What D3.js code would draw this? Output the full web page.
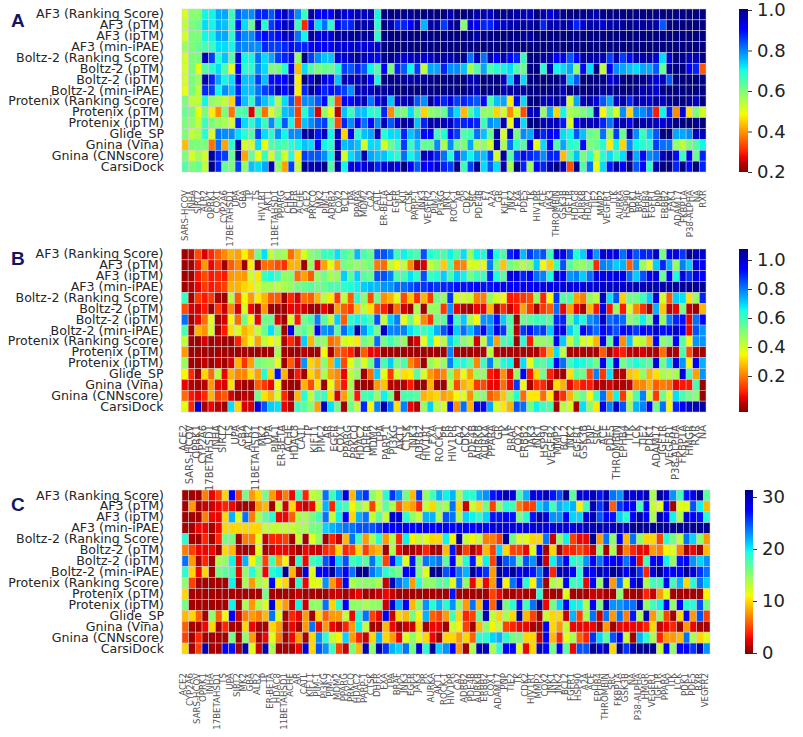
<!DOCTYPE html>
<html>
<head>
<meta charset="utf-8">
<script src="https://d3js.org/d3.v7.min.js"></script>
<style>
  body { margin: 0; background: #fff; }
  text { font-family: "DejaVu Sans", sans-serif; }
</style>
</head>
<body>
<div id="chart"></div>
<script>

// row names, same for every panel
var methods = ["AF3 (Ranking Score)", "AF3 (pTM)", "AF3 (ipTM)", "AF3 (min-iPAE)",
  "Boltz-2 (Ranking Score)", "Boltz-2 (pTM)", "Boltz-2 (ipTM)", "Boltz-2 (min-iPAE)",
  "Protenix (Ranking Score)", "Protenix (pTM)", "Protenix (ipTM)", "Glide_SP",
  "Gnina (Vina)", "Gnina (CNNscore)", "CarsiDock"];

// target names under each panel
var targetsA = ["SARS-HCOV","INHA","SIRT2","ALR2","OPRK1","COX1","CYP2A6","17BETAHSD1","UPA","GBA","TP","TS","HIV1RT","AKT1","11BETAHSD1","PPARG","CHK1","DHFR","ACHE","ACE2","PRKCQ","MK2","PIM-1","ADRB2","COX2","BCL2","TPA","PPARA","MDM2","CA2","CATL","ER-BETA","LCK","EGFR","KIT","CTSK","PARP-1","JNK3","VEGFR2","PIM-2","PI3KG","JNK1","ROCK-1","AR","CDK2","SRC","PDE4B","F7","A2A","GR","KIF11","JNK2","FXA","PDE5","TK","HIV1PR","ACE","JAK3","THROMBIN","GSK3B","IGF1R","HDAC8","AURKB","HDAC2","TIE2","MMP2","VEGFR1","ITK","AURKA","HSP90","PDK1","BRAF","EPHB4","FGFR1","PNP","ERBB2","FAK1","ADAM17","FKBP1A","P38-ALPHA","NA","RXR"];
var targetsB = ["ACE2","SARS-HCOV","OPRK1","CYP2A6","17BETAHSD1","INHA","SIRT2","TS","UPA","GBA","ALR2","11BETAHSD1","MK2","UPA","PIM-1","ER-BETA","ACHE","HDAC8","CATL","TP","KIF11","PIM-2","AR","EGFR","COX1","PPARG","PRKCQ","HDAC2","DHFR","MDM2","TPA","PARP-1","PI3KG","AKT1","CTSK","JNK3","ADRB2","HIV1RT","FXA","ROCK-1","PR","HIV1PR","CA2","CDK2","PDE4B","AURKB","AURKA","PPARA","GR","TK","BRAF","COX2","ERBB2","JAK3","JNK1","HSP90","VEGFR2","MMP2","BCL2","JNK2","FGFR1","GSK3B","PNP","SRC","ACE","PDE5","THROMBIN","EPHB4","ITK","LCK","TIE2","PDK1","ADAM17","IGF1R","VEGFR1","P38-ALPHA","FKBP1A","HMGR","RXR","NA"];
var targetsC = ["ACE2","CYP2A6","SARS-HCOV","OPRK1","INHA","17BETAHSD1","TS","UPA","SIRT2","MK2","GBA","ALR2","TP","ER-BETA","HDAC8","11BETAHSD1","ACHE","AR","CATL","KIF11","PIM-1","PI3KG","PIM-2","MDM2","PPARG","PRKCQ","HDAC2","PARP-1","CTSK","DHFR","FXA","TPA","BRAF","JNK3","EGFR","JAK3","PR","AURKA","AKT1","ROCK-1","HIV1PR","CA2","ADRB2","PDE4B","AURKB","ERBB2","COX1","ADAM17","PNP","TIE2","TK","CDK2","HIV1RT","MMP2","COX2","JNK1","JNK2","BCL2","FGFR1","HSP90","A2A","ACE","EPHB4","THROMBIN","SRC","FKBP1A","GSK3B","NA","P38-ALPHA","HMGR","VEGFR1","IGF1R","PPARA","ITK","LCK","PDK1","PDE5","RXR","VEGFR2"];

// panel A values
var valuesA = [
[.5,.57,.57,.68,.68,.74,.74,.64,.8,.76,.76,.84,.84,.8,.87,.92,.84,.76,.64,.94,.88,.88,.88,.94,.9,.9,.92,.92,.93,.68,.97,.97,.95,.95,.95,.95,.98,.97,.96,.97,.93,.96,.97,.96,.93,.93,.92,.95,.95,.95,.93,.92,.92,.96,.93,.9,.93,.95,.96,.96,.95,.94,.93,.95,.96,.96,.97,.97,.96,.97,.98,.97,.96,.98,.98,.99,.98,.97,.98],
[.52,.58,.6,.7,.68,.73,.72,.65,.85,.7,.6,.93,.66,.82,.86,.92,.9,.64,.3,.86,.7,.78,.66,.88,.83,.84,.93,.93,.93,.66,.96,.93,.84,.84,.88,.93,.73,.94,.93,.82,.93,.95,.57,.9,.88,.84,.84,.9,.9,.93,.93,.93,.93,.95,.84,.93,.93,.93,.92,.84,.9,.93,.93,.9,.93,.94,.94,.95,.94,.94,.94,.93,.8,.97,.97,.97,.96,.97,.98],
[.5,.58,.58,.68,.68,.74,.74,.66,.82,.76,.76,.84,.86,.84,.86,.92,.9,.78,.68,.94,.9,.9,.9,.94,.94,.94,.94,.94,.94,.66,.97,.97,.96,.96,.96,.96,.97,.97,.97,.97,.96,.96,.96,.96,.93,.95,.96,.96,.96,.96,.95,.94,.94,.97,.97,.96,.96,.97,.97,.97,.96,.96,.96,.97,.97,.97,.97,.98,.98,.98,.98,.98,.99,.99,.98,.98,.98,.98,.99],
[.55,.58,.6,.63,.65,.7,.7,.68,.78,.76,.76,.76,.84,.82,.82,.84,.86,.84,.84,.88,.88,.88,.88,.9,.9,.9,.9,.9,.9,.9,.96,.96,.96,.96,.96,.96,.98,.98,.97,.97,.97,.97,.97,.97,.97,.97,.97,.97,.97,.97,.96,.96,.96,.97,.97,.97,.97,.97,.97,.97,.97,.97,.97,.98,.98,.98,.98,.98,.98,.98,.98,.98,.98,.98,.98,.98,.98,.99,.99],
[.5,.58,.58,.92,.82,.66,.72,.62,.9,.68,.68,.78,.7,.74,.82,.84,.86,.56,.96,.82,.76,.72,.72,.9,.9,.92,.94,.92,.9,.86,.95,.95,.92,.9,.92,.92,.9,.92,.93,.93,.93,.94,.94,.78,.92,.78,.93,.87,.92,.86,.84,.65,.98,.98,.93,.93,.88,.88,.8,.86,.93,.93,.93,.92,.82,.93,.82,.86,.93,.93,.93,.9,.7,.9,.97,.95,.92,.92,.97],
[.5,.58,.48,.62,.66,.7,.62,.48,.88,.66,.66,.76,.7,.58,.58,.66,.88,.42,.7,.62,.58,.6,.6,.66,.82,.8,.84,.8,.68,.62,.88,.58,.84,.8,.68,.82,.52,.74,.74,.84,.76,.76,.72,.54,.62,.74,.62,.66,.68,.7,.62,.6,.96,.98,.66,.92,.68,.7,.74,.56,.86,.7,.96,.52,.88,.76,.74,.72,.7,.74,.74,.8,.6,.94,.96,.96,.88,.84,.34],
[.5,.58,.55,.93,.84,.74,.68,.7,.9,.72,.72,.82,.72,.86,.86,.88,.92,.46,.98,.9,.96,.9,.86,.72,.93,.92,.92,.94,.88,.68,.96,.96,.94,.94,.94,.93,.94,.97,.95,.96,.96,.96,.96,.93,.93,.96,.96,.98,.92,.72,.92,.7,.97,.98,.96,.96,.96,.93,.72,.8,.96,.96,.96,.96,.9,.92,.96,.96,.96,.96,.92,.9,.92,.8,.97,.97,.96,.96,.98],
[.48,.58,.52,.84,.82,.68,.76,.72,.84,.72,.72,.78,.82,.84,.92,.86,.92,.46,.84,.94,.9,.84,.86,.84,.82,.76,.92,.92,.92,.93,.94,.94,.96,.97,.97,.98,.98,.97,.96,.96,.96,.97,.97,.95,.92,.96,.96,.97,.92,.94,.94,.93,.96,.97,.96,.96,.96,.92,.98,.98,.96,.97,.96,.94,.94,.96,.97,.97,.97,.93,.93,.9,.95,.97,.97,.97,.96,.97,.98],
[.58,.52,.52,.68,.56,.54,.52,.44,.84,.72,.66,.78,.72,.68,.54,.7,.8,.32,.76,.76,.8,.86,.6,.33,.88,.86,.9,.92,.78,.88,.92,.72,.9,.92,.93,.8,.76,.95,.88,.84,.9,.82,.84,.82,.8,.86,.62,.72,.74,.46,.86,.7,.96,.97,.92,.92,.94,.92,.5,.74,.92,.93,.9,.8,.74,.92,.93,.84,.94,.92,.9,.94,.92,.94,.96,.96,.94,.92,.98],
[.6,.58,.48,.58,.46,.38,.58,.36,.62,.62,.26,.6,.36,.5,.56,.72,.74,.32,.66,.74,.26,.56,.48,.24,.72,.64,.72,.72,.66,.66,.84,.38,.6,.58,.7,.6,.44,.56,.58,.6,.78,.7,.42,.62,.7,.56,.56,.44,.5,.38,.5,.33,.92,.92,.56,.74,.44,.68,.54,.56,.58,.62,.92,.47,.6,.5,.76,.44,.76,.76,.8,.29,.68,.84,.38,.9,.45,.58,.5],
[.58,.56,.52,.64,.58,.56,.54,.5,.84,.7,.66,.72,.64,.76,.66,.8,.68,.32,.72,.76,.8,.82,.62,.33,.84,.76,.86,.78,.86,.76,.92,.8,.9,.94,.93,.72,.84,.94,.92,.92,.92,.84,.84,.85,.84,.64,.76,.74,.92,.48,.9,.7,.97,.97,.92,.92,.92,.85,.5,.88,.92,.92,.92,.84,.78,.92,.93,.88,.96,.93,.92,.92,.9,.92,.96,.97,.96,.95,.98],
[.58,.52,.54,.66,.5,.78,.76,.76,.7,.66,.62,.82,.7,.66,.76,.68,.76,.76,.94,.94,.85,.92,.68,.92,.44,.88,.66,.72,.74,.92,.66,.7,.7,.84,.72,.76,.86,.88,.64,.66,.86,.82,.62,.64,.78,.72,.6,.94,.5,.92,.58,.76,.74,.92,.84,.88,.86,.7,.68,.8,.72,.6,.58,.78,.56,.82,.6,.94,.76,.64,.72,.8,.96,.96,.74,.74,.76,.92,.92],
[.42,.58,.58,.58,.36,.78,.4,.66,.93,.5,.5,.7,.48,.62,.64,.62,.66,.68,.72,.7,.86,.68,.66,.92,.72,.74,.72,.5,.7,.7,.5,.6,.66,.82,.64,.72,.6,.6,.76,.54,.76,.6,.58,.74,.54,.56,.5,.94,.54,.78,.66,.62,.9,.48,.7,.88,.62,.74,.66,.64,.86,.58,.6,.66,.46,.68,.44,.76,.68,.66,.66,.82,.78,.78,.56,.52,.58,.62,.68],
[.58,.5,.55,.5,.94,.84,.82,.6,.95,.4,.6,.48,.64,.5,.62,.5,.66,.46,.82,.8,.8,.76,.68,.94,.5,.7,.74,.93,.74,.72,.72,.68,.66,.78,.68,.72,.92,.9,.84,.78,.66,.82,.74,.68,.74,.72,.82,.5,.94,.62,.82,.86,.84,.82,.76,.84,.84,.42,.62,.72,.58,.66,.52,.66,.7,.64,.7,.94,.74,.86,.76,.78,.92,.94,.86,.64,.88,.6,.84],
[.62,.58,.6,.52,.98,.84,.6,.58,.82,.56,.72,.7,.74,.92,.56,.4,.82,.52,.95,.92,.93,.96,.62,.94,.68,.9,.88,.9,.92,.84,.9,.92,.88,.98,.88,.8,.88,.88,.9,.84,.82,.98,.64,.82,.95,.7,.8,.7,.93,.54,.97,.84,.55,.88,.84,.93,.96,.92,.33,.95,.62,.78,.48,.7,.85,.94,.88,.98,.8,.86,.66,.93,.97,.97,.84,.98,.86,.98,.84]
];

// panel B values
var valuesB = [
[.03,.05,.18,.08,.14,.2,.25,.3,.28,.37,.27,.55,.7,.45,.5,.48,.22,.3,.42,.52,.55,.62,.62,.7,.6,.55,.74,.6,.56,.85,.85,.8,.62,.68,.62,.6,.85,.65,.62,.6,.68,.6,.7,.5,.68,.66,.9,.66,.6,.9,.97,.74,.88,.82,.85,.62,1.0,.97,.85,.65,.72,.95,.78,.99,.97,.98,.82,.95,.85,.9,.9,1.0,.54,.97,.98,.88,1.05,1.02,1.0],
[.03,.03,.12,.27,.1,.16,.03,.2,.25,.03,.37,.03,.22,.22,.18,.15,.3,.3,.03,.5,.1,.28,.4,.28,.55,.52,.5,.52,.55,.23,.22,.45,.38,.45,.25,.05,.08,.45,.5,.33,.6,.23,.25,.42,.42,.4,.8,.55,.32,.55,.5,.47,.5,.72,.38,.33,.62,.85,.58,.52,.5,.55,.14,.8,.78,.72,.75,.2,.78,.5,.4,.72,.9,.75,.5,.8,.72,.98,.95],
[.03,.03,.12,.18,.12,.14,.12,.27,.28,.27,.43,.36,.62,.67,.62,.5,.52,.22,.28,.2,.5,.55,.48,.5,.72,.58,.72,.58,.56,.85,.85,.8,.6,.6,.7,.64,.85,.62,.65,.72,.6,.72,.68,.55,.62,.62,.9,.66,.58,.98,.98,.9,.95,.82,.8,.66,1.0,.95,.78,.8,.72,.82,.98,.98,.95,.98,.97,.82,.72,.85,.95,.98,.56,.95,.66,.98,.88,.97,.95],
[.03,.05,.1,.16,.12,.14,.17,.3,.3,.34,.36,.42,.48,.48,.45,.48,.5,.55,.56,.58,.55,.56,.6,.6,.64,.66,.68,.72,.74,.74,.78,.78,.82,.82,.85,.88,.88,.9,.88,.9,.9,.92,.92,.92,.94,.92,.92,.94,.94,.94,.96,.96,.96,.97,.97,.97,.98,.98,.98,.98,.98,.98,1.0,1.0,1.0,1.0,1.0,1.0,1.02,1.02,1.02,1.02,1.03,1.03,1.04,1.04,1.05,1.05,1.05],
[.62,.03,.16,.12,.16,.04,.03,.46,.2,.38,.27,.36,.3,.2,.2,.03,.14,.08,.22,.2,.3,.46,.36,.16,.45,.2,.64,.52,.18,.55,.26,.3,.4,.18,.32,.15,.3,.16,.55,.5,.88,.42,.42,.44,.24,.24,.5,.42,.38,.12,.13,.16,.18,.5,.14,.38,.88,.58,.6,.28,.24,.5,.45,1.0,.7,.85,.33,.55,.55,.62,.72,.98,.42,.2,.72,.7,.35,.5,.9],
[.18,.08,.08,.12,.03,.16,.07,.25,.08,.42,.1,.03,.27,.03,.03,.03,.1,.1,.08,.03,.03,.1,.03,.28,.2,.16,.32,.45,.35,.18,.13,.03,.22,.08,.03,.48,.03,.5,.5,.16,.78,.1,.05,.03,.1,.1,.3,.03,.15,.07,.12,.28,.16,.04,.16,.2,.82,.1,.28,.1,.04,.3,.12,.98,.12,.5,.12,.42,.25,.15,.04,.75,.32,.06,.1,.55,.06,.03,.3],
[.82,.03,.1,.22,.4,.03,.08,.38,.22,.55,.38,.1,.55,.56,.08,.03,.42,.12,.55,.6,.8,.58,.45,.72,.2,.64,.68,.66,.6,.85,.45,.72,.8,.4,.55,.4,.25,.15,.55,.58,.92,.62,.72,.48,.38,.78,.78,.92,.72,.6,.03,.56,.58,.62,.62,.58,.9,.9,.56,.72,.66,.78,.82,1.0,.82,.85,.82,.52,.55,.68,.55,.98,.5,.8,.9,.92,.1,.82,.95],
[.6,.03,.3,.26,.42,.03,.12,.35,.42,.3,.34,.45,.56,.7,.56,.03,.98,.55,.58,.5,.96,.78,.8,.58,.82,.72,1.03,.78,.68,.55,1.0,.8,.8,.8,.7,.65,.62,.66,.75,.85,.98,.72,.82,.74,.84,.95,.78,.98,.88,.58,.05,.88,.92,.85,.88,.72,.98,.97,.72,.62,.95,.88,.82,.95,.9,.85,.93,.92,.88,.95,.92,1.0,.92,.93,1.0,.95,.1,.85,.78],
[.45,.03,.03,.08,.03,.05,.03,.03,.13,.3,.38,.28,.45,.38,.42,.05,.14,.08,.72,.3,.52,.5,.22,.25,.42,.4,.36,.55,.5,.82,.55,.62,.55,.5,.03,.08,.4,.65,.38,.46,.72,.62,.52,.48,.08,.45,.76,.28,.6,.62,.03,.65,.12,.5,.5,.52,.95,.72,.44,.6,.42,.4,.3,.98,.58,.96,.26,.72,.42,.46,.3,.95,.52,.55,.95,.58,.38,.78,.78],
[.27,.03,.03,.03,.03,.03,.03,.03,.03,.03,.03,.03,.03,.03,.48,.03,.03,.03,.05,.03,.03,.38,.03,.2,.18,.13,.04,.2,.1,.1,.03,.03,.03,.03,.03,.03,.03,.03,.03,.03,.8,.04,.03,.03,.04,.04,.45,.04,.04,.04,.04,.04,.04,.04,.14,.3,.7,.45,.04,.04,.04,.04,.04,.2,.04,.1,.13,.06,.05,.08,.05,.04,.22,.04,.04,.6,.18,.03,.03],
[.5,.03,.03,.06,.03,.06,.03,.08,.3,.15,.28,.55,.52,.5,.4,.03,.2,.08,.78,.34,.3,.52,.3,.72,.18,.4,.52,.42,.55,.85,.6,.72,.55,.6,.25,.18,.03,.5,.44,.5,.8,.65,.66,.58,.25,.62,.8,.52,.66,.68,.04,.7,.4,.6,.58,.66,.95,.82,.62,.68,.66,.62,.55,.96,.65,.97,.55,.62,.66,.6,.58,.98,.55,.7,.98,.78,.38,.95,.75],
[.38,.14,.03,.34,.22,.46,.1,.3,.25,.25,.35,.28,.65,.34,.92,.3,.03,.12,.03,.34,.28,.48,.28,.25,.1,.45,.5,.03,.22,.72,.4,.16,.42,.35,.36,.58,.42,.27,.22,.25,.52,.28,.38,.28,.5,.5,.12,.1,.26,.1,.5,.95,.12,.34,.55,.13,.05,.03,.35,.58,.55,.18,.8,.16,.7,.03,.05,.32,.34,.5,.3,.35,.48,.46,.48,.98,.6,.28,.78],
[.1,.05,.03,.05,.27,.1,.08,.35,.05,.03,.03,.2,.16,.1,.38,.03,.03,.03,.3,.18,.35,.03,.4,.24,.12,.48,.03,.03,.03,.27,.32,.05,.05,.05,.12,.03,.03,.3,.03,.03,.45,.18,.3,.33,.16,.18,.1,.1,.22,.1,.88,.38,.04,.15,.14,.05,.35,.3,.1,.18,.12,.12,.05,.05,.08,.04,.04,.06,.25,.25,.3,.2,.24,.22,.1,.12,.12,.6,.03],
[.22,.12,.1,.14,.3,.16,.2,.08,.03,.05,.05,.55,.35,.3,.42,.14,.03,.3,.65,.45,.6,.62,.35,.08,.28,.5,.12,.6,.62,.5,.68,.55,.03,.6,.6,.58,.3,.32,.34,.28,.3,.38,.4,.26,.5,.52,.2,.24,.32,.5,.65,.22,.36,.36,.22,.36,.05,.15,.3,.5,.56,.38,.62,.82,.28,.68,.16,.42,.6,.8,.42,.16,.55,.4,.7,.6,.55,.52,.03],
[.4,.14,1.0,.04,.1,.05,.03,.7,.34,.08,.08,.98,.85,.72,.7,.1,.05,.62,.58,.52,.28,1.0,.7,.55,.03,.55,.45,.9,.38,.8,1.02,.82,.35,.8,.1,.05,.5,.72,.46,.42,.92,.26,.82,.3,.98,.96,.76,.42,.36,.3,.85,.82,.55,.68,.62,.6,.03,.46,.42,.04,.7,.52,.36,.97,.8,1.0,.85,.5,.75,.8,.95,.55,.82,.38,.9,.95,1.0,1.02,1.04]
];

// panel C values
var valuesC = [
[1,1,1,7,3,5,10,28,5,16,8,10,16,8,4,7,3,18,4,13,14,24,18,22,29,9,24,26,15,13,19,26,23,16,9,26,15,18,22,20,22,14,19,19,22,23,27,28,30,29,18,22,29,28,30,27,25,31,17,29,29,30,27,30,24,23,30,29,29,30,14,31,29,23,18,27,28,31,17],
[1,8,1,2,2,3,4,3,1,1,1,8,9,1,13,2,10,3,2,3,13,22,4,19,18,11,15,13,5,13,17,14,6,9,8,4,13,10,15,14,24,10,2,13,10,16,5,15,19,18,7,5,5,21,23,18,22,21,22,11,18,30,26,30,6,26,28,28,18,28,13,12,28,1,12,12,25,20,9],
[1,1,1,7,3,3,10,22,12,24,7,14,17,19,3,3,6,14,14,16,18,24,13,20,28,10,22,24,13,17,13,29,29,19,15,13,22,22,14,25,24,14,21,20,19,21,27,27,28,27,16,19,27,30,29,23,23,28,21,21,29,30,25,28,27,21,19,28,30,28,14,30,28,20,14,29,28,27,19],
[1,1,3,3,1,3,10,10,10,10,10,10,13,13,13,13,13,14,14,16,16,21,22,23,24,24,25,25,25,26,28,28,28,28,28,28,28,28,28,28,28,28,28,28,28,28,29,29,29,29,28,29,29,29,29,29,29,29,29,29,30,30,30,30,30,30,30,31,31,31,31,31,31,31,31,31,31,31,31],
[19,1,1,4,1,4,16,16,1,7,7,12,2,4,4,5,1,13,1,12,15,1,4,2,9,24,18,8,14,19,8,14,4,20,11,13,12,10,10,20,11,31,13,11,13,7,7,5,31,16,12,12,10,10,24,2,15,20,5,3,3,31,8,24,15,28,9,24,15,10,10,5,19,16,13,24,21,15,8],
[7,5,3,3,3,1,10,9,1,1,1,12,1,2,3,3,2,1,3,2,2,4,5,10,4,5,10,5,8,9,1,14,3,1,1,2,4,1,1,9,27,1,5,1,3,9,5,21,10,5,5,3,12,28,1,10,1,4,4,5,4,2,15,1,14,1,7,4,3,3,8,7,11,12,7,1,3,1,9],
[24,8,1,4,1,14,15,20,3,22,11,16,5,18,8,11,1,19,3,18,19,25,28,21,25,18,19,17,24,19,5,27,21,12,27,16,24,23,24,17,28,13,19,27,12,20,5,30,25,24,17,25,23,30,2,20,24,28,19,19,23,28,24,28,28,28,24,28,3,18,28,28,20,15,27,28,23,21,23],
[19,10,3,10,1,16,17,18,3,15,19,15,3,19,20,31,9,1,29,12,28,28,31,25,28,24,31,31,24,22,19,17,16,28,28,16,12,31,31,25,28,24,22,31,28,26,8,31,29,31,28,29,27,24,30,4,30,30,28,19,29,28,30,29,31,30,28,30,26,4,29,31,28,28,28,31,29,26,24],
[15,5,1,1,1,1,1,20,1,14,8,14,13,28,11,10,1,19,3,12,12,23,8,4,28,14,15,15,15,14,2,30,24,22,8,19,15,15,17,17,12,24,15,3,10,3,8,30,11,24,28,19,11,24,1,14,13,28,18,19,3,28,15,30,8,24,12,28,30,14,18,18,28,18,22,10,19,24,21],
[10,1,1,1,1,1,1,1,1,1,1,1,16,1,1,1,1,2,1,1,1,1,2,2,1,2,3,1,1,2,3,2,1,1,1,1,1,1,1,1,27,1,1,1,1,1,5,3,1,1,2,1,1,19,1,1,1,12,1,1,1,2,2,1,1,15,1,1,1,4,2,8,12,1,1,1,1,1,11],
[16,1,1,1,1,1,1,20,1,14,8,14,12,29,10,8,2,20,2,15,15,24,10,19,28,15,15,14,15,15,2,29,22,28,9,15,23,19,22,19,23,15,8,24,9,29,6,31,16,19,27,18,24,31,3,16,21,28,20,20,14,28,16,30,23,23,24,24,30,15,18,20,28,15,28,19,19,25,16],
[9,10,6,1,15,6,11,28,2,7,8,7,9,24,12,1,4,3,8,1,10,6,8,8,13,3,19,24,5,3,28,2,10,9,16,11,22,6,5,8,18,10,4,5,17,30,13,10,14,10,31,9,5,1,13,10,10,2,22,5,14,24,2,24,8,24,7,27,14,30,8,15,5,1,10,28,8,25,5],
[6,1,1,3,10,1,4,1,1,10,3,1,1,10,8,1,3,1,8,24,3,8,3,2,4,8,20,13,1,1,9,3,1,2,2,10,1,3,3,1,13,11,5,1,9,15,11,13,5,4,3,3,1,1,28,10,8,13,3,3,3,3,1,8,1,3,3,3,3,4,10,2,3,4,1,8,3,1,1],
[5,1,4,1,1,1,1,16,1,15,8,1,3,12,7,1,3,8,1,10,23,19,13,11,21,8,4,2,10,22,10,8,3,12,15,12,10,3,1,10,10,8,10,6,19,19,21,22,19,16,16,10,10,2,28,9,4,12,14,6,4,26,21,17,25,28,13,1,22,19,14,4,8,8,9,24,14,10,12],
[10,1,5,30,1,1,28,27,1,30,12,2,30,14,1,1,1,3,29,10,25,23,18,5,2,16,9,30,15,30,26,22,21,24,16,29,19,31,21,23,28,8,1,14,30,30,14,19,28,28,12,3,10,30,28,16,28,17,3,25,25,31,29,30,10,31,26,30,31,31,31,13,28,15,28,28,26,30,23]
];

// colorbar tick labels
var ticksA = [0.2, 0.4, 0.6, 0.8, 1.0];
var ticksB = [0.2, 0.4, 0.6, 0.8, 1.0];
var ticksC = [0, 10, 20, 30];

var panels = [
  {letter: "A", values: valuesA, targets: targetsA, x0: 182, x1: 706, y0: 9, y1: 172, lblX: [185, 703], lblTop: 190, lblSize: 8.6,
   vmin: 0.2, vmax: 0.96, ticks: ticksA, fmt: ".1f", tickDomain: [0.2, 1.0], tickRange: [172, 10], barX: 739, barW: 9, letterY: 27},
  {letter: "B", values: valuesB, targets: targetsB, x0: 181.5, x1: 706, y0: 249, y1: 412, lblX: [183, 702], lblTop: 425, lblSize: 10,
   vmin: 0, vmax: 1.07, ticks: ticksB, fmt: ".1f", tickDomain: [0.2, 1.0], tickRange: [376, 260], barX: 739, barW: 9, letterY: 265},
  {letter: "C", values: valuesC, targets: targetsC, x0: 182, x1: 710, y0: 490, y1: 654, lblX: [183, 705], lblTop: 673, lblSize: 8.6,
   vmin: 0, vmax: 31.5, ticks: ticksC, fmt: "d", tickDomain: [0, 30], tickRange: [653, 497], barX: 745, barW: 8, letterY: 511}
];

var svg = d3.select("#chart").append("svg")
  .attr("width", 803)
  .attr("height", 737);

// matplotlib jet channels
var jetR = d3.scaleLinear().domain([0, .35, .66, .89, 1]).range([0, 0, 1, 1, .5]);
var jetG = d3.scaleLinear().domain([0, .125, .375, .64, .91, 1]).range([0, 0, 1, 1, 0, 0]);
var jetB = d3.scaleLinear().domain([0, .11, .34, .65, 1]).range([.5, 1, 1, 0, 0]);
function jet(t) {
  return d3.rgb(jetR(t) * 255, jetG(t) * 255, jetB(t) * 255) + "";
}

panels.forEach(function(p, pi) {
  var x = d3.scaleBand().domain(d3.range(79)).range([p.x0, p.x1]);
  var y = d3.scaleBand().domain(methods).range([p.y0, p.y1]);
  // high values are blue, so the map runs reversed
  var norm = d3.scaleLinear().domain([p.vmin, p.vmax]).range([1, 0]).clamp(true);

  p.values.forEach(function(row, r) {
    svg.append("g").selectAll("rect")
      .data(row)
      .enter()
      .append("rect")
        .attr("x", function(d, i) { return x(i); })
        .attr("y", y(methods[r]))
        .attr("width", x.bandwidth())
        .attr("height", y.bandwidth())
        .style("fill", function(d) { return jet(norm(d)); })
        .style("stroke", "#cfcfcf")
        .style("stroke-width", 0.5);
  });

  // row labels
  var left = svg.append("g")
    .attr("transform", "translate(" + (p.x0 - 18) + ",0)")
    .call(d3.axisLeft(y).tickSize(0).tickPadding(0));
  left.select(".domain").remove();
  left.selectAll("text").style("font-size", "12.6px").style("fill", "#262626");

  // target labels, denser than the cells in the source figure
  var xLabels = d3.scalePoint().domain(d3.range(p.targets.length)).range(p.lblX);
  var bottom = svg.append("g").attr("transform", "translate(0," + p.lblTop + ")")
    .call(d3.axisBottom(xLabels).tickSize(0).tickPadding(0).tickFormat(function(i) { return p.targets[i]; }));
  bottom.select(".domain").remove();
  bottom.selectAll("text")
    .attr("transform", "rotate(-90)")
    .attr("x", 0)
    .attr("y", 0)
    .attr("dy", "0.32em")
    .attr("text-anchor", "end")
    .style("font-size", p.lblSize + "px")
    .style("fill", "#555");

  // colorbar
  var grad = svg.append("defs").append("linearGradient")
    .attr("id", "bar" + pi)
    .attr("x1", 0).attr("x2", 0).attr("y1", 1).attr("y2", 0);
  grad.selectAll("stop")
    .data(d3.range(0, 1.001, 0.02))
    .enter()
    .append("stop")
      .attr("offset", function(d) { return d; })
      .attr("stop-color", function(d) { return jet(1 - d); });
  svg.append("rect")
    .attr("x", p.barX)
    .attr("y", p.y0)
    .attr("width", p.barW)
    .attr("height", p.y1 - p.y0)
    .style("fill", "url(#bar" + pi + ")");

  var tickScale = d3.scaleLinear().domain(p.tickDomain).range(p.tickRange);
  var right = svg.append("g")
    .attr("transform", "translate(" + (p.barX + p.barW) + ",0)")
    .call(d3.axisRight(tickScale).tickValues(p.ticks).tickFormat(d3.format(p.fmt)).tickSize(4).tickPadding(5));
  right.select(".domain").remove();
  right.selectAll("line").style("stroke", "#333");
  right.selectAll("text").style("font-size", "18px").style("fill", "#222");

  // panel letter
  svg.append("text")
    .attr("x", 11)
    .attr("y", p.letterY)
    .style("font-family", "'Liberation Sans', sans-serif")
    .style("font-weight", "bold")
    .style("font-size", "19px")
    .style("fill", "#15155f")
    .text(p.letter);
});

</script>
</body>
</html>
